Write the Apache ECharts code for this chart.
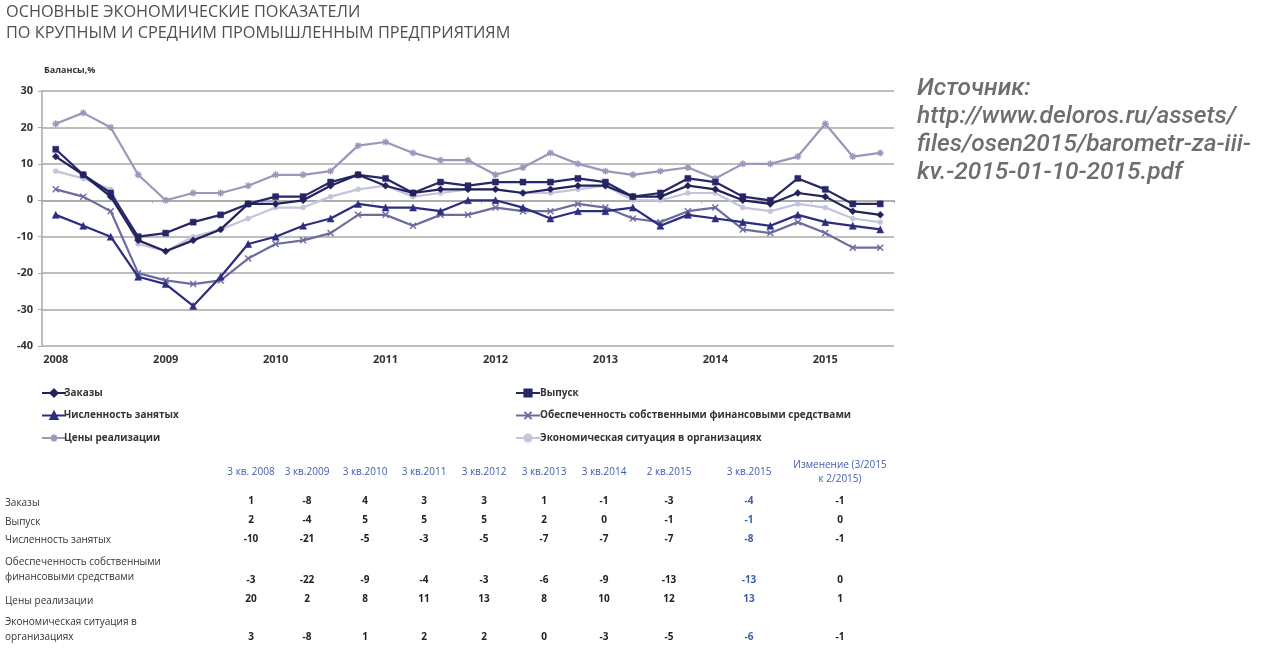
<!DOCTYPE html>
<html><head><meta charset="utf-8">
<script src="https://cdn.jsdelivr.net/npm/echarts@6/dist/echarts.min.js"></script>
<style>html,body{margin:0;padding:0;background:#fff}#c{width:1266px;height:654px}</style>
</head><body><div id="c"></div>
<script>
const categories = ['2008','','','','2009','','','','2010','','','','2011','','','','2012','','','','2013','','','','2014','','','','2015','',''];
const seriesNames = ['Заказы','Выпуск','Численность занятых','Обеспеченность собственными финансовыми средствами','Цены реализации','Экономическая ситуация в организациях'];
const zakazy   = [12,7,1,-11,-14,-11,-8,-1,-1,0,4,7,4,2,3,3,3,2,3,4,4,1,1,4,3,0,-1,2,1,-3,-4];
const vypusk   = [14,7,2,-10,-9,-6,-4,-1,1,1,5,7,6,2,5,4,5,5,5,6,5,1,2,6,5,1,0,6,3,-1,-1];
const chisl    = [-4,-7,-10,-21,-23,-29,-21,-12,-10,-7,-5,-1,-2,-2,-3,0,0,-2,-5,-3,-3,-2,-7,-4,-5,-6,-7,-4,-6,-7,-8];
const obesp    = [3,1,-3,-20,-22,-23,-22,-16,-12,-11,-9,-4,-4,-7,-4,-4,-2,-3,-3,-1,-2,-5,-6,-3,-2,-8,-9,-6,-9,-13,-13];
const ceny     = [21,24,20,7,0,2,2,4,7,7,8,15,16,13,11,11,7,9,13,10,8,7,8,9,6,10,10,12,21,12,13];
const ekonom   = [8,6,3,-12,-14,-10,-8,-5,-2,-2,1,3,4,1,2,3,3,2,2,3,4,0,0,2,2,-2,-3,-1,-2,-5,-6];
const yTicks = {min:-40, max:30, interval:10};

const tableHeaders = ['3 кв. 2008','3 кв.2009','3 кв.2010','3 кв.2011','3 кв.2012','3 кв.2013','3 кв.2014','2 кв.2015','3 кв.2015','Изменение (3/2015\nк 2/2015)'];
const tableLabels = ['Заказы','Выпуск','Численность занятых','Обеспеченность собственными\nфинансовыми средствами','Цены реализации','Экономическая ситуация в\nорганизациях'];
const tZakazy = [1,-8,4,3,3,1,-1,-3,-4,-1];
const tVypusk = [2,-4,5,5,5,2,0,-1,-1,0];
const tChisl  = [-10,-21,-5,-3,-5,-7,-7,-7,-8,-1];
const tObesp  = [-3,-22,-9,-4,-3,-6,-9,-13,-13,0];
const tCeny   = [20,2,8,11,13,8,10,12,13,1];
const tEkonom = [3,-8,1,2,2,0,-3,-5,-6,-1];
const tableValues = [tZakazy,tVypusk,tChisl,tObesp,tCeny,tEkonom];

const sourceLines = ['Источник:','http://www.deloros.ru/assets/','files/osen2015/barometr-za-iii-','kv.-2015-01-10-2015.pdf'];

const FONT = '"Open Sans", "Noto Sans", sans-serif';
const colors = ['#22225c','#262668','#2c2c80','#6c6c9e','#9898ba','#c4c4da'];
const symbols = ['diamond','rect','triangle',
  'path://M0,0L10,10M10,0L0,10',
  'path://M5,0L5,10M0,5L10,5M1.5,1.5L8.5,8.5M8.5,1.5L1.5,8.5',
  'circle'];
const sizes = [7,6,7,6,7,5];
const dataArr = [zakazy,vypusk,chisl,obesp,ceny,ekonom];

const series = seriesNames.map((n,i)=>({
  name:n, type:'line', data:dataArr[i], xAxisIndex:0,
  symbol:symbols[i], symbolSize:sizes[i], showAllSymbol:true,
  lineStyle:{color:colors[i], width:2.2},
  itemStyle:{color:colors[i], borderColor:colors[i], borderWidth:(i===3||i===4)?1.4:0.5},
  z: 10-i
}));

const graphics = [];
graphics.push({type:'text', left:44, top:66, style:{text:'Балансы,%', font:'bold 9px '+FONT, fill:'#333'}});
sourceLines.forEach((t,k)=>graphics.push({type:'text', left:917, top:76+k*28,
  style:{text:t, font:'italic 500 24.5px Roboto, sans-serif', fill:'#6e6e6e'}}));
const colX = [251,307,365,424,484,544,604,669,749,840];
tableHeaders.forEach((h,j)=>{
  const two = h.indexOf('\n')>=0;
  graphics.push({type:'text', x:colX[j], y: two?458:465,
    style:{text:h, font:'10px '+FONT, fill:'#3f5fa8', textAlign:'center', lineHeight:14}});
});
const rowLabelY = [495,514,532,554,593,614];
const rowValY = [496,515,534,575,594,632];
tableLabels.forEach((l,r)=>{
  graphics.push({type:'text', x:5, y:rowLabelY[r], style:{text:l, font:'10px '+FONT, fill:'#333', lineHeight:15.5}});
  tableValues[r].forEach((v,j)=>{
    graphics.push({type:'text', x:colX[j], y:rowValY[r],
      style:{text:String(v), font:'bold 10px '+FONT, fill: j===8?'#3f5fa8':'#222', textAlign:'center'}});
  });
});

const chart = echarts.init(document.getElementById('c'));
chart.setOption({
  animation:false,
  backgroundColor:'#fff',
  title:{text:'ОСНОВНЫЕ ЭКОНОМИЧЕСКИЕ ПОКАЗАТЕЛИ\nПО КРУПНЫМ И СРЕДНИМ ПРОМЫШЛЕННЫМ ПРЕДПРИЯТИЯМ',
    left:1, top:-3, textStyle:{fontFamily:FONT, fontSize:16.3, fontWeight:'normal', color:'#4f4f4f', lineHeight:21}},
  grid:{left:42, right:372, top:91, bottom:308},
  legend:[
    {orient:'vertical', left:36, top:383, itemGap:12.5, itemWidth:24, itemHeight:9,
     data:[seriesNames[0],seriesNames[2],seriesNames[4]],
     textStyle:{fontFamily:FONT, fontSize:10, fontWeight:'bold', color:'#333', padding:[0,0,0,-7]}},
    {orient:'vertical', left:510, top:383, itemGap:12.5, itemWidth:24, itemHeight:9,
     data:[seriesNames[1],seriesNames[3],seriesNames[5]],
     textStyle:{fontFamily:FONT, fontSize:10, fontWeight:'bold', color:'#333', padding:[0,0,0,-5]}}
  ],
  xAxis:[
    {type:'category', data:categories, boundaryGap:true, position:'bottom',
     axisLine:{show:false, onZero:false}, axisTick:{show:false},
     axisLabel:{interval:0, margin:8, fontFamily:FONT, fontSize:11, fontWeight:'bold', color:'#333'}},
    {type:'category', data:categories, boundaryGap:true, position:'bottom',
     axisLine:{show:true, onZero:true, lineStyle:{color:'#a8a8a8', width:1.5}},
     axisTick:{show:true, interval:3, length:3, lineStyle:{color:'#a8a8a8'}},
     axisLabel:{show:false}}
  ],
  yAxis:{type:'value', min:yTicks.min, max:yTicks.max, interval:yTicks.interval,
    axisLine:{show:true, lineStyle:{color:'#a8a8a8', width:1.5}},
    axisTick:{show:true, length:4, lineStyle:{color:'#a8a8a8'}},
    splitLine:{lineStyle:{color:'#a8a8a8', width:1.5}},
    axisLabel:{margin:9, fontFamily:FONT, fontSize:11, fontWeight:'bold', color:'#333'}},
  series: series,
  graphic: graphics
});
</script></body></html>
